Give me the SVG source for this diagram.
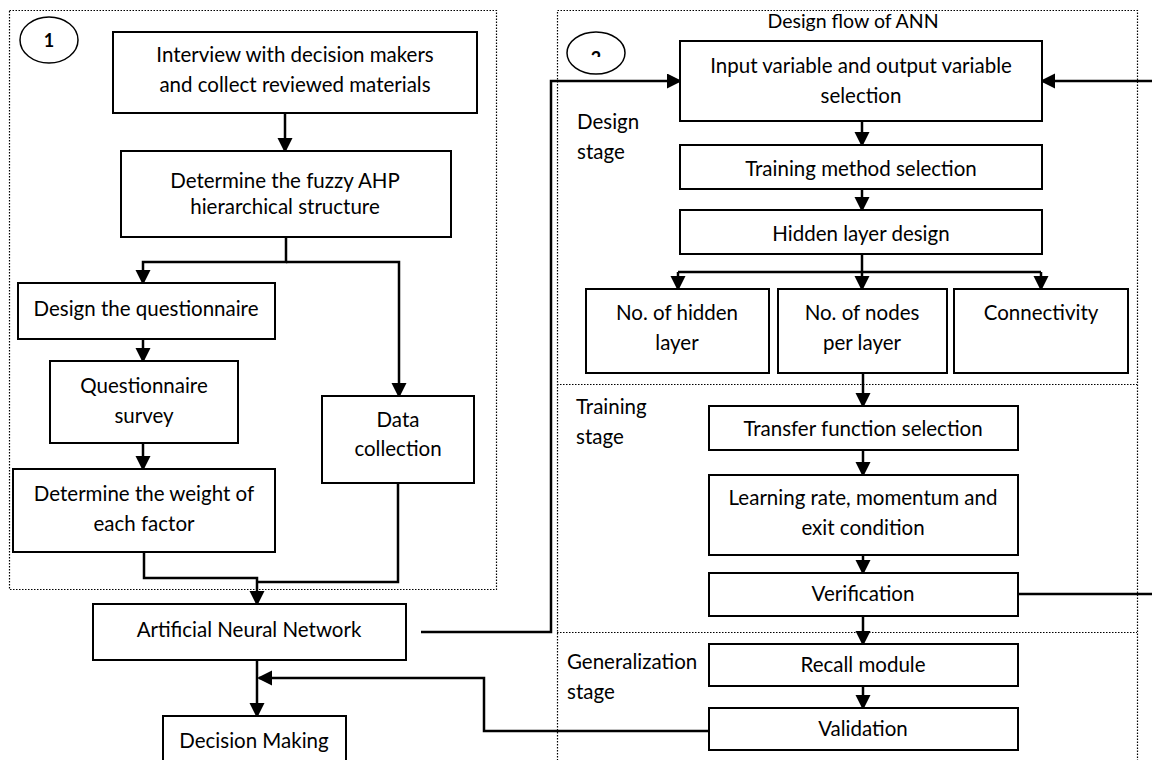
<svg xmlns="http://www.w3.org/2000/svg" width="1152" height="760" viewBox="0 0 1152 760">
<style>
text{font-family:Lato,"Liberation Sans",sans-serif;font-size:20.5px;fill:#000}
.c{text-anchor:middle}
.box{fill:#fff;stroke:#000;stroke-width:2}
.dot{fill:none;stroke:#000;stroke-width:1.2;stroke-dasharray:1.5 1.5}
.con{fill:none;stroke:#000;stroke-width:2.5}
.arr{marker-end:url(#ah)}
</style>
<defs>
<marker id="ah" markerUnits="userSpaceOnUse" markerWidth="16" markerHeight="16" refX="13" refY="7.5" orient="auto"><path d="M0,0 L15,7.5 L0,15 z" fill="#000"/></marker>
<clipPath id="clip2"><rect x="570" y="30" width="50" height="27"/></clipPath>
</defs>

<g id="frames">
<rect class="dot" x="9.5" y="10.5" width="487" height="579"/>
<rect class="dot" x="557.5" y="10.5" width="580" height="770"/>
<line class="dot" x1="557" y1="384.5" x2="1137" y2="384.5"/>
<line class="dot" x1="557" y1="632.5" x2="1137" y2="632.5"/>
<text class="c" x="853" y="28" style="font-size:19.5px">Design flow of ANN</text>
<text x="577" y="129">Design</text><text x="577" y="159">stage</text>
<text x="576" y="414">Training</text><text x="576" y="444">stage</text>
<text x="567" y="669">Generalization</text><text x="567" y="699">stage</text>
</g>

<g id="marker1">
<ellipse cx="49" cy="40" rx="29" ry="23" fill="none" stroke="#000" stroke-width="1.5"/>
<text class="c" x="49" y="47" font-weight="bold" style="font-size:18px">1</text>
</g>
<g id="marker2">
<ellipse cx="596" cy="53" rx="29" ry="21" fill="none" stroke="#000" stroke-width="1.5"/>
<text class="c" x="596" y="65" font-weight="bold" style="font-size:18px" clip-path="url(#clip2)">2</text>
</g>

<g id="connectors">
<path class="con arr" d="M285,113 V151"/>
<path class="con arr" d="M286,237 V262 H143 V283"/>
<path class="con arr" d="M286,262 H399 V396"/>
<path class="con arr" d="M143,339 V361"/>
<path class="con arr" d="M143,443 V469"/>
<path class="con arr" d="M144,552 V578 H257 V604"/>
<path class="con" d="M398,483 V582 H257"/>
<path class="con arr" d="M421,632 H551 V81 H680"/>
<path class="con arr" d="M257,660 V716"/>
<path class="con arr" d="M709,731 H484 V678 H259"/>
<path class="con arr" d="M862,121 V145"/>
<path class="con arr" d="M862,189 V210"/>
<path class="con arr" d="M862,254 V289"/>
<path class="con arr" d="M678,272 V289"/>
<path class="con" d="M678,272 H1041"/>
<path class="con arr" d="M1041,272 V289"/>
<path class="con arr" d="M863,373 V406"/>
<path class="con arr" d="M863,450 V475"/>
<path class="con arr" d="M863,555 V573"/>
<path class="con arr" d="M863,616 V644"/>
<path class="con arr" d="M863,686 V708"/>
<path class="con arr" d="M1018,594 H1156 V81 H1042"/>
</g>

<g id="interview"><rect class="box" x="113" y="32" width="364" height="81"/>
<text class="c" x="295" y="62">Interview with decision makers</text><text class="c" x="295" y="92">and collect reviewed materials</text></g>
<g id="ahp"><rect class="box" x="121" y="151" width="330" height="86"/>
<text class="c" x="285" y="188">Determine the fuzzy AHP</text><text class="c" x="285" y="214">hierarchical structure</text></g>
<g id="design-q"><rect class="box" x="18" y="283" width="257" height="56"/>
<text class="c" x="146" y="316">Design the questionnaire</text></g>
<g id="survey"><rect class="box" x="50" y="361" width="188" height="82"/>
<text class="c" x="144" y="393">Questionnaire</text><text class="c" x="144" y="423">survey</text></g>
<g id="weight"><rect class="box" x="13" y="469" width="262" height="83"/>
<text class="c" x="144" y="501">Determine the weight of</text><text class="c" x="144" y="531">each factor</text></g>
<g id="data"><rect class="box" x="322" y="396" width="152" height="87"/>
<text class="c" x="398" y="427">Data</text><text class="c" x="398" y="456">collection</text></g>
<g id="ann"><rect class="box" x="93" y="604" width="313" height="56"/>
<text class="c" x="249" y="637">Artificial Neural Network</text></g>
<g id="decision"><rect class="box" x="163" y="716" width="183" height="60"/>
<text class="c" x="254" y="748">Decision Making</text></g>

<g id="input"><rect class="box" x="680" y="41" width="362" height="80"/>
<text class="c" x="861" y="73">Input variable and output variable</text><text class="c" x="861" y="103">selection</text></g>
<g id="training"><rect class="box" x="680" y="145" width="362" height="44"/>
<text class="c" x="861" y="176">Training method selection</text></g>
<g id="hidden"><rect class="box" x="680" y="210" width="362" height="44"/>
<text class="c" x="861" y="241">Hidden layer design</text></g>
<g id="nhidden"><rect class="box" x="586" y="289" width="183" height="84"/>
<text class="c" x="677" y="320">No. of hidden</text><text class="c" x="677" y="350">layer</text></g>
<g id="nnodes"><rect class="box" x="778" y="289" width="169" height="84"/>
<text class="c" x="862" y="320">No. of nodes</text><text class="c" x="862" y="350">per layer</text></g>
<g id="connectivity"><rect class="box" x="954" y="289" width="174" height="84"/>
<text class="c" x="1041" y="320">Connectivity</text></g>
<g id="transfer"><rect class="box" x="709" y="406" width="309" height="44"/>
<text class="c" x="863" y="436">Transfer function selection</text></g>
<g id="learning"><rect class="box" x="709" y="475" width="309" height="80"/>
<text class="c" x="863" y="505">Learning rate, momentum and</text><text class="c" x="863" y="535">exit condition</text></g>
<g id="verification"><rect class="box" x="709" y="573" width="309" height="43"/>
<text class="c" x="863" y="601">Verification</text></g>
<g id="recall"><rect class="box" x="709" y="644" width="309" height="42"/>
<text class="c" x="863" y="672">Recall module</text></g>
<g id="validation"><rect class="box" x="709" y="708" width="309" height="42"/>
<text class="c" x="863" y="736">Validation</text></g>
</svg>
